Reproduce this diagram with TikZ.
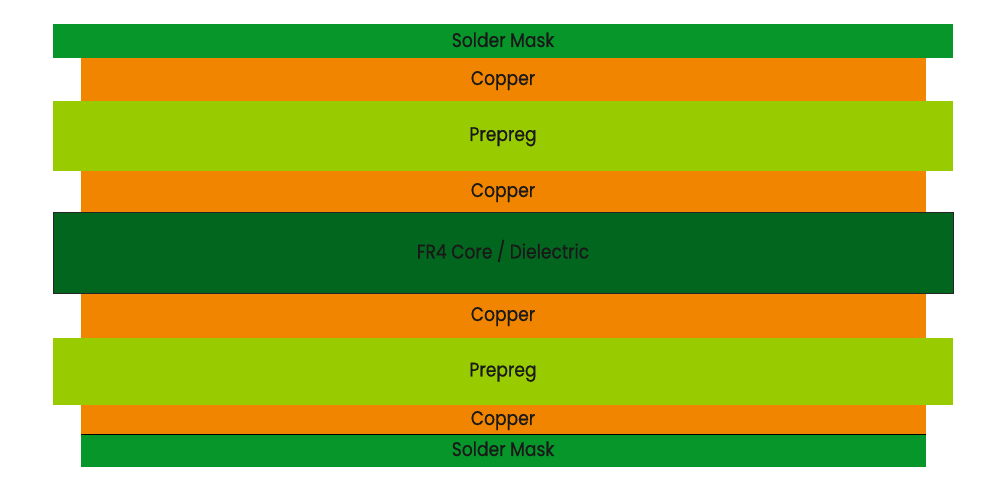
\documentclass[tikz,border=0pt]{standalone}
\usepackage{fontspec}
\setmainfont[FakeStretch=0.87, FakeBold=0.6]{Poppins}
\usepackage{tikz}
\usetikzlibrary{positioning}

\definecolor{maskgreen}{HTML}{07962A}
\definecolor{copperorange}{HTML}{F28500}
\definecolor{prepreggreen}{HTML}{99CC00}
\definecolor{coregreen}{HTML}{03661F}

\tikzset{
  layer/.style = {shape = rectangle, inner sep = 0pt, outer sep = 0pt, font = \fontsize{14}{16}\selectfont, text = black!90, text height = 0.78em, text depth = 0pt},
  mask/.style = {layer, fill = maskgreen},
  copper/.style = {layer, fill = copperorange, minimum width = 21.125cm},
  prepreg/.style = {layer, fill = prepreggreen, minimum width = 22.5cm},
  core/.style = {layer, fill = coregreen, draw = black!85, line width = 0.6pt, minimum width = 22.5cm}
}

\begin{document}
\begin{tikzpicture}
\useasboundingbox (0,0) rectangle (25,-12.5);
\node[mask, minimum width = 22.5cm, minimum height = 0.85cm, anchor = north] (mask1) at (12.575,-0.6125) {Solder Mask};
\node[copper, minimum height = 1.05cm, below = 0pt of mask1] (cu1) {Copper};
\node[prepreg, minimum height = 1.75cm, below = 0pt of cu1] (pp1) {Prepreg};
\node[copper, minimum height = 1.05cm, below = 0pt of pp1] (cu2) {Copper};
\node[core, minimum height = 2.025cm, below = 0pt of cu2] (core) {FR4 Core / Dielectric};
\node[copper, minimum height = 1.1cm, below = 0pt of core] (cu3) {Copper};
\node[prepreg, minimum height = 1.675cm, below = 0pt of cu3] (pp2) {Prepreg};
\node[copper, minimum height = 0.75cm, below = 0pt of pp2] (cu4) {Copper};
\node[mask, minimum width = 21.125cm, minimum height = 0.8cm, below = 0pt of cu4] (mask2) {Solder Mask};
% dark seam between copper and mask
\draw[line width = 1.4pt] (mask2.north west) -- (mask2.north east);
\end{tikzpicture}
\end{document}
